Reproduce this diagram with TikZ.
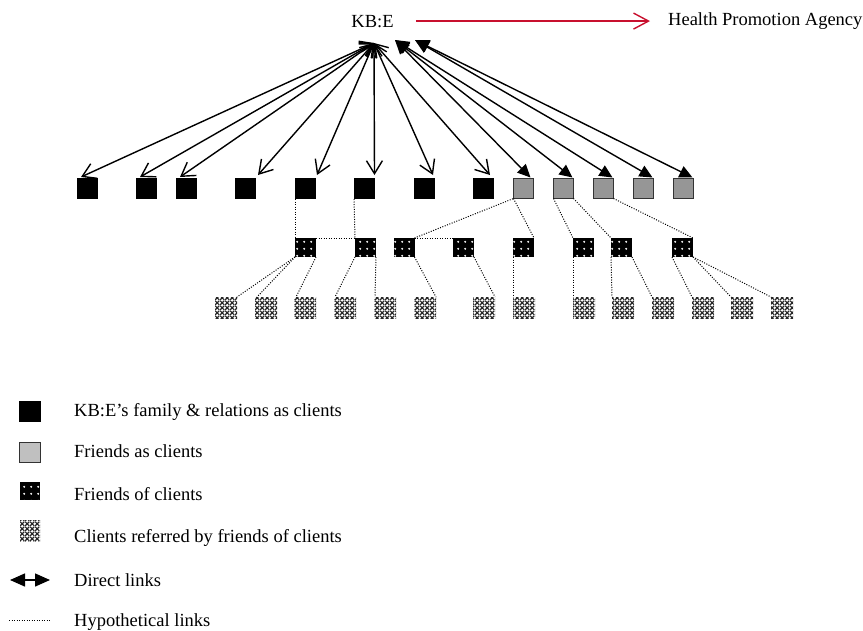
\documentclass[tikz,border=0pt]{standalone}
\usepackage{fontspec}
\setmainfont{Liberation Serif}
\usetikzlibrary{arrows.meta,patterns.meta}
\definecolor{hpared}{RGB}{200,16,46}
\definecolor{frgray}{RGB}{150,150,150}
\definecolor{lggray}{RGB}{192,192,192}
\tikzdeclarepattern{name=wdots,type=uncolored,bounding box={(0pt,0pt) and (7pt,7pt)},tile size={(7pt,7pt)},code={\fill (3.5pt,3.5pt) circle (1.2pt);}}
\tikzdeclarepattern{name=xhatch,type=uncolored,bounding box={(0pt,0pt) and (5pt,5pt)},tile size={(5pt,5pt)},code={\draw[line width=1.3pt] (0pt,0pt)--(5pt,5pt) (0pt,5pt)--(5pt,0pt);}}
\begin{document}
\begin{tikzpicture}[x=1pt,y=-1pt,
  txt/.style={inner sep=0pt,font=\fontsize{18.5}{21}\selectfont},
  fam/.style={fill=black,minimum width=21pt,minimum height=21pt,inner sep=0pt,outer sep=0pt},
  frd/.style={fill=frgray,draw=black!80,line width=1pt,minimum width=20pt,minimum height=20pt,inner sep=0pt,outer sep=0pt},
  foc/.style={preaction={fill=black},pattern=wdots,pattern color=white,minimum width=21pt,minimum height=19pt,inner sep=0pt,outer sep=0pt},
  refd/.style={preaction={fill=white},pattern=xhatch,pattern color=black!85,minimum width=22pt,minimum height=21pt,inner sep=0pt,outer sep=0pt},
  direct/.style={line width=1.4pt,{Straight Barb[length=12pt,width=16pt]}-{Straight Barb[length=13pt,width=16pt]}},
  gdirect/.style={line width=1.4pt,{Triangle[length=14pt,width=13pt]}-{Triangle[length=13pt,width=12pt]}},
  hypo/.style={line width=1pt,dash pattern=on 1pt off 1.5pt},
  redarrow/.style={draw=hpared,line width=1.4pt,-{Straight Barb[length=15pt,width=16pt]}}
]
\useasboundingbox (0,0) rectangle (863,630);

% top
\node[txt,anchor=base] (kbe) at (372.5,27) {KB:E};
\node[txt,anchor=base west] (hpa) at (668,25) {Health Promotion Agency};
\draw[redarrow,shorten <=22pt,shorten >=18pt] (kbe.east) -- (kbe.east -| hpa.west);

\coordinate (hubB) at (374,43);
\coordinate (hubG1) at (395,40);
\coordinate (hubG2) at (415,40);

% row 1
\foreach \i/\x in {1/87.5,2/146.5,3/186.5,4/245.5,5/305.5,6/364.5,7/424.5,8/483.5}
  \node[fam] (b\i) at (\x,188.5) {};
\foreach \i/\x in {1/523.5,2/563.5,3/603.5,4/643.5,5/683.5}
  \node[frd] (g\i) at (\x,188.5) {};

% row 2
\foreach \i/\x in {1/305.5,2/365.5,3/404,4/463.5,5/523.5,6/583.5,7/621.5,8/682.5}
  \node[foc] (f\i) at (\x,247.5) {};

% row 3
\foreach \i/\x in {1/226,2/266,3/305,4/345,5/385,6/425,7/484,8/524,9/584,10/623,11/663,12/703,13/742,14/782}
  \node[refd] (r\i) at (\x,307.5) {};

% direct links to family
\draw[direct] (hubB) -- ([xshift=4pt,yshift=1pt]b1.north west);
\draw[direct] (hubB) -- ([xshift=4pt,yshift=1pt]b2.north west);
\draw[direct] (hubB) -- ([xshift=4pt,yshift=1pt]b3.north west);
\draw[direct] (hubB) -- ([xshift=2pt,yshift=3pt]b4.north east);
\draw[direct] (hubB) -- ([xshift=1pt,yshift=3pt]b5.north east);
\draw[direct] (hubB) -- ([xshift=-0.5pt,yshift=3pt]b6.north east);
\draw[direct] (hubB) -- ([xshift=-2pt,yshift=3pt]b7.north east);
\draw[direct] (hubB) -- ([xshift=-4pt,yshift=3pt]b8.north east);

% direct links to friends
\draw[gdirect] (hubG1) -- ([xshift=-3pt,yshift=1pt]g1.north east);
\draw[gdirect] (hubG1) -- ([xshift=-1pt,yshift=1pt]g2.north east);
\draw[gdirect] (hubG1) -- ([xshift=-1pt,yshift=1pt]g3.north east);
\draw[gdirect] (hubG2) -- ([xshift=-1pt,yshift=1pt]g4.north east);
\draw[gdirect] (hubG2) -- ([xshift=-1pt,yshift=1pt]g5.north east);

% hypothetical links row1 -> row2
\draw[hypo] (b5.south west) -- (f1.north west);
\draw[hypo] (b6.south west) -- (f2.north west);
\draw[hypo] (f1.north east) -- (f2.north west);
\draw[hypo] (f3.north east) -- (g1.south west);
\draw[hypo] (f3.north east) -- (f4.north west);
\draw[hypo] (g1.south west) -- (f5.north east);
\draw[hypo] (g2.south west) -- (f6.north west);
\draw[hypo] (g2.south east) -- (f7.north west);
\draw[hypo] (g3.south east) -- (f8.north east);

% hypothetical links row2 -> row3
\draw[hypo] (f1.south west) -- (r1.north east);
\draw[hypo] (f1.south west) -- ([xshift=2pt]r2.north west);
\draw[hypo] (f1.south east) -- ([xshift=2pt]r3.north west);
\draw[hypo] (f2.south west) -- ([xshift=1pt]r4.north west);
\draw[hypo] (f2.south east) -- ([xshift=1pt]r5.north west);
\draw[hypo] (f3.south east) -- (r6.north east);
\draw[hypo] (f4.south east) -- (r7.north east);
\draw[hypo] (f5.south west) -- (r8.north west);
\draw[hypo] (f6.south west) -- (r9.north west);
\draw[hypo] (f7.south west) -- (r10.north west);
\draw[hypo] (f7.south east) -- (r11.north west);
\draw[hypo] (f8.south west) -- (r12.north west);
\draw[hypo] (f8.south east) -- (r13.north west);
\draw[hypo] (f8.south east) -- (r14.north west);

% legend
\node[fam,minimum width=22pt] (lb) at (30,411.5) {};
\node[frd,fill=lggray,minimum width=21pt] (lg) at (29.5,452) {};
\node[foc,minimum width=20pt,minimum height=18pt] (lf) at (30,491) {};
\node[refd,minimum width=20pt] (lr) at (30,531) {};
\coordinate (la1) at (10,580);
\coordinate (la2) at (50,580);
\draw[line width=1.4pt,{Triangle[length=15pt,width=13pt]}-{Triangle[length=15pt,width=13pt]}] (la1) -- (la2);
\coordinate (ld1) at (9,620);
\coordinate (ld2) at (50,620);
\draw[hypo] (ld1) -- (ld2);

\node[txt,anchor=base west] (t1) at (74,416) {KB:E’s family \& relations as clients};
\node[txt,anchor=base west] (t2) at (74,457) {Friends as clients};
\node[txt,anchor=base west] (t3) at (74,500) {Friends of clients};
\node[txt,anchor=base west] (t4) at (74,542) {Clients referred by friends of clients};
\node[txt,anchor=base west] (t5) at (74,586) {Direct links};
\node[txt,anchor=base west] (t6) at (74,626) {Hypothetical links};
\end{tikzpicture}
\end{document}
